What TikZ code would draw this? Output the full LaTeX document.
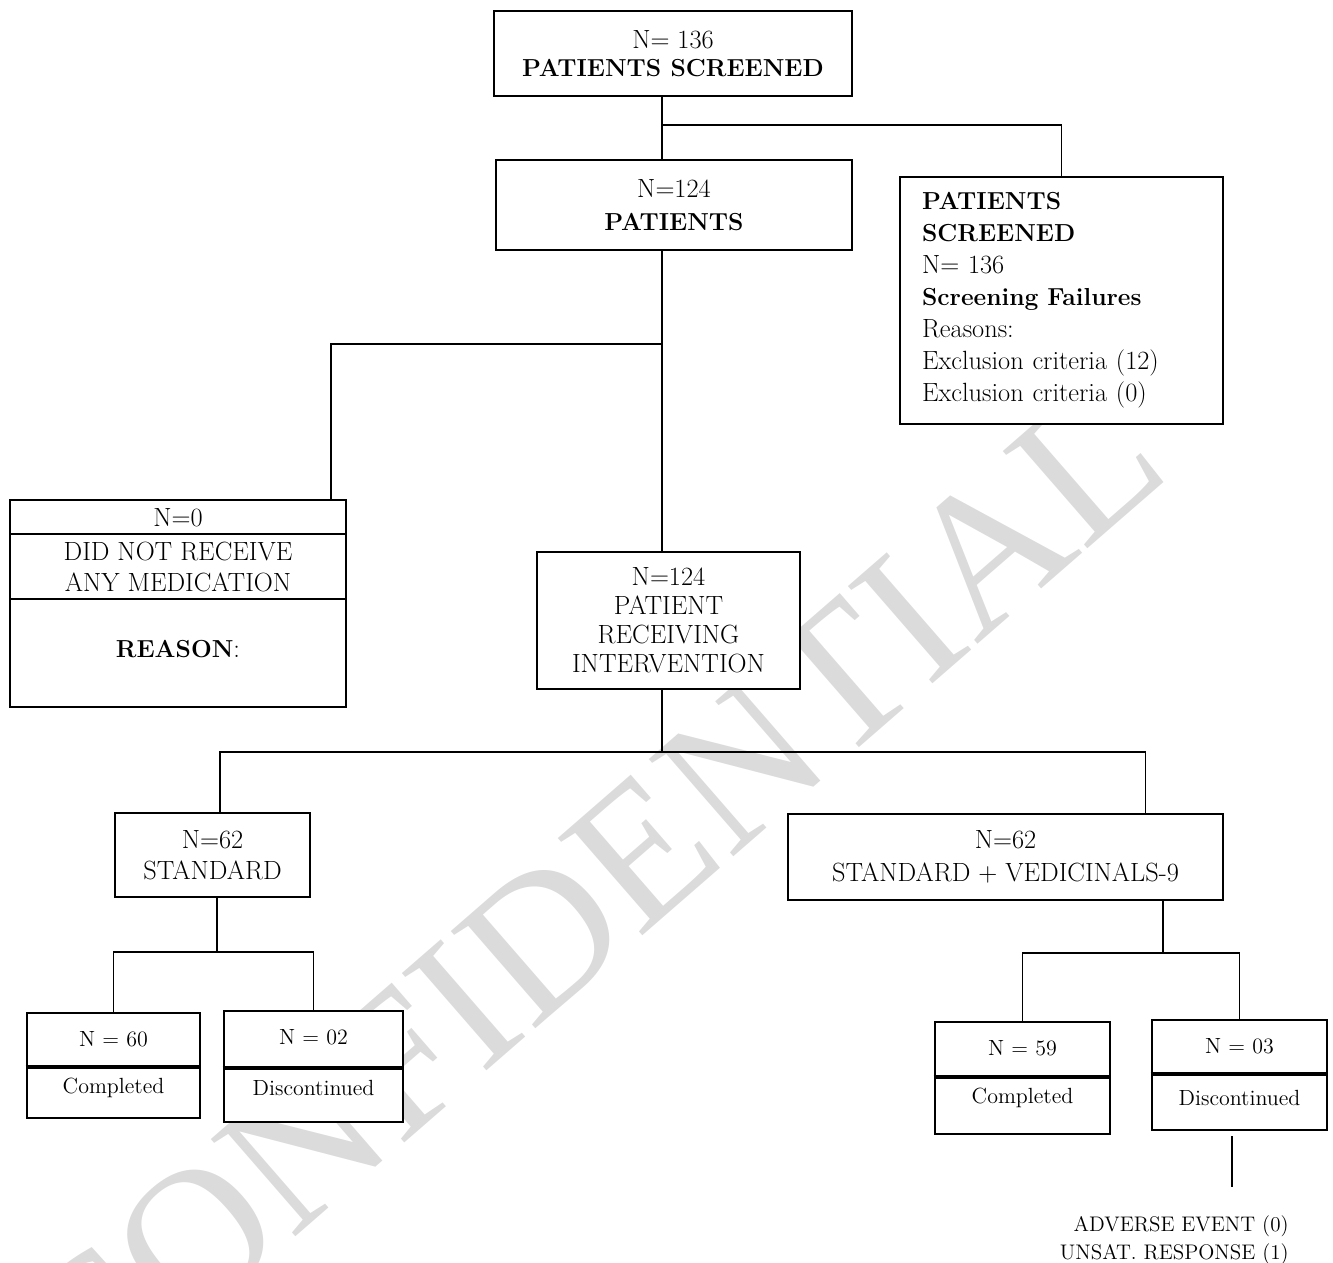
\documentclass[tikz,border=0pt]{standalone}
\usepackage{fontspec}
\newfontfamily\stampfont{Liberation Serif}
\usetikzlibrary{positioning,calc}

\tikzset{
  box/.style={draw, line width=1.5pt, fill=white, inner sep=0pt, align=center},
  thinbox/.style={box, line width=0.9pt},
  wire/.style={line width=0.9pt},
  bar/.style={line width=2.4pt},
  big/.style={font=\fontsize{15}{#1}\selectfont},
  big/.default=18.2pt,
  small/.style={font=\fontsize{12.5}{15}\selectfont, inner sep=0pt},
}
\newcommand{\bh}[1]{{\fontsize{14}{18}\selectfont\bfseries #1}}

\begin{document}
\begin{tikzpicture}[x=0.02cm, y=-0.02cm]
                \useasboundingbox (0,0) rectangle (1333,1263);
                % watermark
                \node[text=black!14, rotate=41, inner sep=0pt,
                  font=\stampfont\fontsize{112}{112}\selectfont] (stamp) at (588,898) {CONFIDENTIAL};

                % boxes
                \node[box, big=16pt, minimum width=7.16cm, minimum height=1.7cm] (screen) at (673,53.5)
                  {N= 136\\\bh{PATIENTS SCREENED}};
                \node[box, big=18.8pt, minimum width=7.12cm, minimum height=1.8cm] (pat) at (674,205)
                  {N=124\\\bh{PATIENTS}};
                \node[box, big, align=left, text width=5.58cm, inner xsep=0.44cm,
                  minimum height=4.94cm] (fail) at (1061.5,300.5)
                  {\bh{PATIENTS}\\\bh{SCREENED}\\N= 136\\\bh{Screening Failures}\\Reasons:\\
                   Exclusion criteria (12)\\Exclusion criteria (0)};
                \node[thinbox, minimum width=6.72cm, minimum height=4.14cm] (left) at (178,603.5) {};
                \node[box, big=16.5pt, minimum width=5.26cm, minimum height=2.74cm] (interv) at (668.5,620.5)
                  {N=124\\PATIENT\\RECEIVING\\INTERVENTION};
                \node[box, big=17.6pt, minimum width=3.9cm, minimum height=1.68cm] (std) at (212.5,855)
                  {N=62\\STANDARD};
                \node[box, big=18.8pt, minimum width=8.7cm, minimum height=1.72cm] (stdv) at (1005.5,857)
                  {N=62\\STANDARD + VEDICINALS-9};
                \node[box, minimum width=3.46cm, minimum height=2.1cm] (comp1) at (113.5,1065.5) {};
                \node[box, minimum width=3.58cm, minimum height=2.22cm] (disc1) at (313.5,1066.5) {};
                \node[box, minimum width=3.5cm, minimum height=2.24cm] (comp2) at (1022.5,1078) {};
                \node[box, minimum width=3.5cm, minimum height=2.2cm] (disc2) at (1239.5,1075) {};

                % left box rows
                \draw[line width=0.8pt] (left.west |- 0,534) -- (left.east |- 0,534);
                \draw[line width=0.8pt] (left.west |- 0,599) -- (left.east |- 0,599);
                \node[big, inner sep=0pt] (leftn) at (178,518) {N=0};
                \node[big, inner sep=0pt, align=center] (leftt) at (178,567) {DID NOT RECEIVE\\ANY MEDICATION};
                \node[big, inner sep=0pt] (leftr) at (178,649) {\bh{REASON}:};

                % outcome boxes
                \draw[bar] (comp1.west |- 0,1067) -- (comp1.east |- 0,1067);
                \draw[bar] (disc1.west |- 0,1068) -- (disc1.east |- 0,1068);
                \draw[bar] (comp2.west |- 0,1077) -- (comp2.east |- 0,1077);
                \draw[bar] (disc2.west |- 0,1074) -- (disc2.east |- 0,1074);
                \node[small] (comp1n) at (113.5,1039) {N = 60};
                \node[small] (comp1t) at (113.5,1088) {Completed};
                \node[small] (disc1n) at (313.5,1037) {N = 02};
                \node[small] (disc1t) at (313.5,1088) {Discontinued};
                \node[small] (comp2n) at (1022.5,1048) {N = 59};
                \node[small] (comp2t) at (1022.5,1098) {Completed};
                \node[small] (disc2n) at (1239.5,1046) {N = 03};
                \node[small] (disc2t) at (1239.5,1098) {Discontinued};

                % connectors
                \coordinate (j1) at (662,125);
                \coordinate (j2) at (662,344);
                \coordinate (j3) at (662,752);
                \coordinate (j4) at (217,952);
                \coordinate (j5) at (1163,953);
                \draw[wire] (screen.south -| j1) -- (pat.north -| j1);
                \draw[wire] (j1) -| (fail.north);
                \draw[wire] (pat.south -| j2) -- (interv.north -| j2);
                \draw[wire] (j2) -| ([xshift=-0.32cm]left.north east);
                \draw[wire] (interv.south -| j3) -- (j3);
                \draw[wire] ([xshift=0.15cm]std.north) |- (j3) -| ([xshift=-1.58cm]stdv.north east);
                \draw[wire] (std.south -| j4) -- (j4);
                \draw[wire] (comp1.north) |- (j4) -| (disc1.north);
                \draw[wire] (stdv.south -| j5) -- (j5);
                \draw[wire] (comp2.north) |- (j5) -| (disc2.north);
                \coordinate (tail) at (1232,1187);
                \coordinate (tailtop) at (disc2.south -| tail);
                \draw[wire] ([yshift=-0.1cm]tailtop) -- (tail);
                \node[small, font=\fontsize{12}{16}\selectfont, align=right, anchor=north east] (why) at (1289,1215)
                  {ADVERSE EVENT (0)\\UNSAT. RESPONSE (1)};
            \end{tikzpicture}
\end{document}
